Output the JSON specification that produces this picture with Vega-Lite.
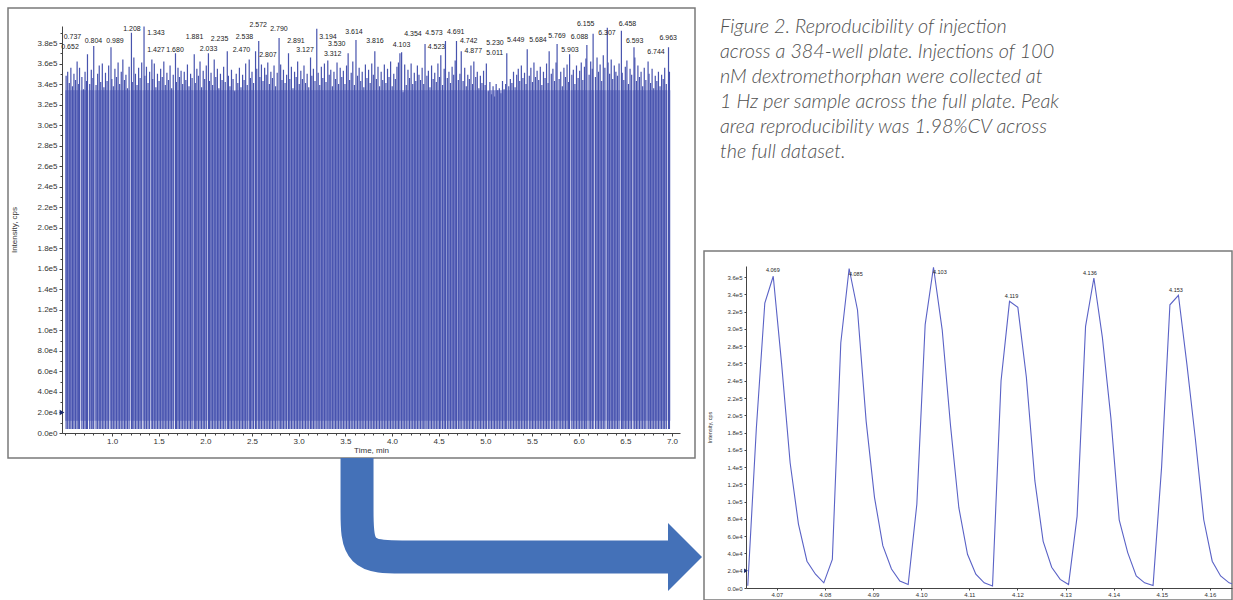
{
"$schema": "https://vega.github.io/schema/vega-lite/v6.json",
"padding": {"left": 7, "top": 7, "right": 0, "bottom": 0},
"spacing": 0,
"datasets": {
"trace": [
{"t":0.508,"y":348},{"t":0.525,"y":352},{"t":0.542,"y":341},{"t":0.559,"y":356},{"t":0.576,"y":338},{"t":0.592,"y":350},{"t":0.609,"y":344},{"t":0.626,"y":362},{"t":0.643,"y":340},{"t":0.652,"y":356,"lab":"0.652","lt":0.550,"ly":376.6},{"t":0.677,"y":347},{"t":0.694,"y":335},{"t":0.711,"y":352},{"t":0.727,"y":343},{"t":0.737,"y":369,"lab":"0.737","lt":0.576,"ly":386.3},{"t":0.761,"y":340},{"t":0.778,"y":354},{"t":0.795,"y":346},{"t":0.804,"y":377,"lab":"0.804","lt":0.801,"ly":381.5},{"t":0.829,"y":339},{"t":0.846,"y":350},{"t":0.863,"y":358},{"t":0.879,"y":342},{"t":0.896,"y":360},{"t":0.913,"y":337},
{"t":0.930,"y":351},{"t":0.947,"y":343},{"t":0.964,"y":358},{"t":0.989,"y":376,"lab":"0.989","lt":1.032,"ly":381.5},{"t":0.998,"y":345},{"t":1.014,"y":338},{"t":1.031,"y":355},{"t":1.048,"y":347},{"t":1.065,"y":361},{"t":1.082,"y":340},{"t":1.099,"y":352},{"t":1.116,"y":364},{"t":1.133,"y":344},{"t":1.149,"y":349},{"t":1.166,"y":336},{"t":1.183,"y":357},{"t":1.208,"y":390,"lab":"1.208","lt":1.214,"ly":394.1},{"t":1.217,"y":342},{"t":1.234,"y":366},{"t":1.251,"y":350},{"t":1.268,"y":339},{"t":1.285,"y":356},{"t":1.301,"y":346},{"t":1.318,"y":361},{"t":1.343,"y":396,"lab":"1.343","lt":1.471,"ly":389.3},
{"t":1.352,"y":348},{"t":1.369,"y":357},{"t":1.386,"y":341},{"t":1.403,"y":352},{"t":1.427,"y":364,"lab":"1.427","lt":1.471,"ly":373.0},{"t":1.436,"y":345},{"t":1.453,"y":360},{"t":1.470,"y":337},{"t":1.487,"y":350},{"t":1.504,"y":343},{"t":1.521,"y":355},{"t":1.538,"y":347},{"t":1.555,"y":362},{"t":1.571,"y":339},{"t":1.588,"y":351},{"t":1.605,"y":344},{"t":1.622,"y":358},{"t":1.639,"y":336},{"t":1.656,"y":349},{"t":1.680,"y":370,"lab":"1.680","lt":1.675,"ly":373.7},{"t":1.690,"y":342},{"t":1.707,"y":356},{"t":1.723,"y":347},{"t":1.740,"y":353},{"t":1.757,"y":340},
{"t":1.774,"y":352},{"t":1.791,"y":344},{"t":1.808,"y":359},{"t":1.825,"y":338},{"t":1.842,"y":350},{"t":1.858,"y":346},{"t":1.881,"y":369,"lab":"1.881","lt":1.884,"ly":386.3},{"t":1.892,"y":341},{"t":1.909,"y":355},{"t":1.926,"y":348},{"t":1.943,"y":362},{"t":1.960,"y":337},{"t":1.977,"y":353},{"t":1.993,"y":345},{"t":2.010,"y":358},{"t":2.033,"y":370,"lab":"2.033","lt":2.034,"ly":374.6},{"t":2.044,"y":343},{"t":2.061,"y":351},{"t":2.078,"y":339},{"t":2.095,"y":364},{"t":2.112,"y":347},{"t":2.129,"y":355},{"t":2.145,"y":336},{"t":2.162,"y":350},{"t":2.179,"y":344},
{"t":2.196,"y":357},{"t":2.213,"y":342},{"t":2.235,"y":372,"lab":"2.235","lt":2.152,"ly":384.4},{"t":2.247,"y":348},{"t":2.264,"y":338},{"t":2.280,"y":354},{"t":2.297,"y":345},{"t":2.314,"y":333},{"t":2.331,"y":350},{"t":2.348,"y":341},{"t":2.365,"y":356},{"t":2.382,"y":337},{"t":2.399,"y":349},{"t":2.415,"y":344},{"t":2.432,"y":360},{"t":2.449,"y":339},{"t":2.470,"y":364,"lab":"2.470","lt":2.387,"ly":373.7},{"t":2.483,"y":346},{"t":2.500,"y":352},{"t":2.517,"y":341},{"t":2.538,"y":372,"lab":"2.538","lt":2.419,"ly":385.4},{"t":2.551,"y":355},{"t":2.572,"y":382,"lab":"2.572","lt":2.567,"ly":397.1},{"t":2.584,"y":347},{"t":2.601,"y":359},
{"t":2.618,"y":343},{"t":2.635,"y":356},{"t":2.652,"y":349},{"t":2.669,"y":361},{"t":2.686,"y":340},{"t":2.702,"y":352},{"t":2.719,"y":346},{"t":2.736,"y":358},{"t":2.753,"y":338},{"t":2.770,"y":351},{"t":2.790,"y":385,"lab":"2.790","lt":2.789,"ly":393.2},{"t":2.807,"y":359,"lab":"2.807","lt":2.671,"ly":368.8},{"t":2.821,"y":344},{"t":2.837,"y":354},{"t":2.854,"y":341},{"t":2.871,"y":349},{"t":2.891,"y":370,"lab":"2.891","lt":2.971,"ly":382.4},{"t":2.905,"y":345},{"t":2.922,"y":357},{"t":2.939,"y":336},{"t":2.956,"y":352},{"t":2.973,"y":347},{"t":2.989,"y":362},{"t":3.006,"y":340},{"t":3.023,"y":353},
{"t":3.040,"y":345},{"t":3.057,"y":358},{"t":3.074,"y":341},{"t":3.091,"y":350},{"t":3.108,"y":337},{"t":3.127,"y":366,"lab":"3.127","lt":3.068,"ly":373.7},{"t":3.141,"y":348},{"t":3.158,"y":355},{"t":3.175,"y":343},{"t":3.194,"y":394,"lab":"3.194","lt":3.314,"ly":386.3},{"t":3.209,"y":351},{"t":3.226,"y":339},{"t":3.243,"y":357},{"t":3.259,"y":346},{"t":3.276,"y":360},{"t":3.293,"y":342},{"t":3.312,"y":363,"lab":"3.312","lt":3.364,"ly":369.0},{"t":3.327,"y":349},{"t":3.344,"y":354},{"t":3.361,"y":338},{"t":3.378,"y":352},{"t":3.395,"y":345},{"t":3.411,"y":361},{"t":3.428,"y":340},{"t":3.445,"y":356},
{"t":3.462,"y":347},{"t":3.479,"y":353},{"t":3.496,"y":340},{"t":3.513,"y":358},{"t":3.530,"y":370,"lab":"3.530","lt":3.408,"ly":379.0},{"t":3.546,"y":344},{"t":3.563,"y":351},{"t":3.580,"y":362},{"t":3.597,"y":339},{"t":3.614,"y":383,"lab":"3.614","lt":3.593,"ly":391.2},{"t":3.631,"y":348},{"t":3.648,"y":356},{"t":3.665,"y":343},{"t":3.681,"y":352},{"t":3.698,"y":337},{"t":3.715,"y":359},{"t":3.732,"y":346},{"t":3.749,"y":354},{"t":3.766,"y":341},{"t":3.783,"y":360},{"t":3.800,"y":349},{"t":3.816,"y":372,"lab":"3.816","lt":3.818,"ly":382.4},{"t":3.833,"y":345},{"t":3.850,"y":357},{"t":3.867,"y":338},
{"t":3.884,"y":352},{"t":3.901,"y":344},{"t":3.918,"y":359},{"t":3.935,"y":341},{"t":3.952,"y":355},{"t":3.968,"y":347},{"t":3.985,"y":362},{"t":4.002,"y":338},{"t":4.019,"y":350},{"t":4.036,"y":345},{"t":4.053,"y":357},{"t":4.069,"y":361},{"t":4.085,"y":370},{"t":4.103,"y":371,"lab":"4.103","lt":4.102,"ly":377.6},{"t":4.119,"y":332},{"t":4.136,"y":359},{"t":4.153,"y":339},{"t":4.171,"y":354},{"t":4.188,"y":346},{"t":4.205,"y":360},{"t":4.222,"y":340},{"t":4.239,"y":351},{"t":4.255,"y":343},{"t":4.272,"y":358},{"t":4.289,"y":349},
{"t":4.306,"y":344},{"t":4.323,"y":356},{"t":4.340,"y":340},{"t":4.354,"y":379,"lab":"4.354","lt":4.225,"ly":388.6},{"t":4.374,"y":348},{"t":4.390,"y":353},{"t":4.407,"y":337},{"t":4.424,"y":358},{"t":4.441,"y":345},{"t":4.458,"y":351},{"t":4.475,"y":342},{"t":4.492,"y":360},{"t":4.509,"y":347},{"t":4.523,"y":368,"lab":"4.523","lt":4.477,"ly":376.3},{"t":4.542,"y":339},{"t":4.559,"y":355},{"t":4.573,"y":382,"lab":"4.573","lt":4.450,"ly":390.2},{"t":4.593,"y":346},{"t":4.610,"y":352},{"t":4.627,"y":341},{"t":4.644,"y":357},{"t":4.661,"y":349},{"t":4.677,"y":363},{"t":4.691,"y":382,"lab":"4.691","lt":4.683,"ly":391.2},{"t":4.711,"y":344},
{"t":4.728,"y":350},{"t":4.742,"y":372,"lab":"4.742","lt":4.822,"ly":382.1},{"t":4.762,"y":343},{"t":4.779,"y":356},{"t":4.796,"y":338},{"t":4.812,"y":349},{"t":4.829,"y":345},{"t":4.846,"y":358},{"t":4.863,"y":340},{"t":4.877,"y":362,"lab":"4.877","lt":4.871,"ly":372.4},{"t":4.897,"y":347},{"t":4.914,"y":352},{"t":4.931,"y":336},{"t":4.947,"y":348},{"t":4.964,"y":341},{"t":4.981,"y":353},{"t":4.998,"y":339},{"t":5.011,"y":360,"lab":"5.011","lt":5.100,"ly":370.7},{"t":5.032,"y":333},{"t":5.049,"y":342},{"t":5.066,"y":330},{"t":5.083,"y":338},{"t":5.099,"y":328},{"t":5.116,"y":340},{"t":5.133,"y":334},
{"t":5.150,"y":336},{"t":5.167,"y":331},{"t":5.184,"y":343},{"t":5.201,"y":335},{"t":5.218,"y":340},{"t":5.230,"y":370,"lab":"5.230","lt":5.103,"ly":380.5},{"t":5.251,"y":338},{"t":5.268,"y":345},{"t":5.285,"y":341},{"t":5.302,"y":352},{"t":5.319,"y":337},{"t":5.336,"y":349},{"t":5.353,"y":355},{"t":5.369,"y":343},{"t":5.386,"y":358},{"t":5.403,"y":346},{"t":5.420,"y":351},{"t":5.437,"y":340},{"t":5.449,"y":374,"lab":"5.449","lt":5.326,"ly":383.1},{"t":5.471,"y":348},{"t":5.488,"y":356},{"t":5.505,"y":342},{"t":5.521,"y":361},{"t":5.538,"y":347},{"t":5.555,"y":353},
{"t":5.572,"y":344},{"t":5.589,"y":357},{"t":5.606,"y":339},{"t":5.623,"y":352},{"t":5.640,"y":346},{"t":5.656,"y":360},{"t":5.673,"y":341},{"t":5.684,"y":372,"lab":"5.684","lt":5.564,"ly":383.1},{"t":5.707,"y":350},{"t":5.724,"y":355},{"t":5.741,"y":343},{"t":5.758,"y":361},{"t":5.769,"y":379,"lab":"5.769","lt":5.768,"ly":387.0},{"t":5.791,"y":345},{"t":5.808,"y":352},{"t":5.825,"y":338},{"t":5.842,"y":356},{"t":5.859,"y":347},{"t":5.876,"y":359},{"t":5.893,"y":342},{"t":5.903,"y":369,"lab":"5.903","lt":5.907,"ly":373.0},{"t":5.927,"y":349},{"t":5.943,"y":354},{"t":5.960,"y":340},{"t":5.977,"y":358},
{"t":5.994,"y":346},{"t":6.011,"y":353},{"t":6.028,"y":361},{"t":6.045,"y":344},{"t":6.062,"y":357},{"t":6.078,"y":365},{"t":6.088,"y":378,"lab":"6.088","lt":6.009,"ly":386.3},{"t":6.112,"y":349},{"t":6.129,"y":362},{"t":6.146,"y":355},{"t":6.155,"y":389,"lab":"6.155","lt":6.076,"ly":398.3},{"t":6.180,"y":347},{"t":6.197,"y":366},{"t":6.213,"y":352},{"t":6.230,"y":359},{"t":6.247,"y":343},{"t":6.264,"y":368},{"t":6.281,"y":356},{"t":6.307,"y":395,"lab":"6.307","lt":6.303,"ly":390.2},{"t":6.315,"y":361},{"t":6.332,"y":350},{"t":6.349,"y":364},{"t":6.365,"y":345},{"t":6.382,"y":358},{"t":6.399,"y":352},
{"t":6.416,"y":348},{"t":6.433,"y":360},{"t":6.458,"y":392,"lab":"6.458","lt":6.523,"ly":398.3},{"t":6.467,"y":351},{"t":6.484,"y":344},{"t":6.500,"y":357},{"t":6.517,"y":363},{"t":6.534,"y":340},{"t":6.551,"y":355},{"t":6.568,"y":349},{"t":6.593,"y":376,"lab":"6.593","lt":6.600,"ly":382.1},{"t":6.602,"y":366},{"t":6.619,"y":343},{"t":6.635,"y":358},{"t":6.652,"y":347},{"t":6.669,"y":352},{"t":6.686,"y":338},{"t":6.703,"y":356},{"t":6.720,"y":344},{"t":6.744,"y":362,"lab":"6.744","lt":6.829,"ly":371.4},{"t":6.754,"y":350},{"t":6.771,"y":341},{"t":6.787,"y":355},{"t":6.804,"y":336},{"t":6.821,"y":348},
{"t":6.838,"y":343},{"t":6.855,"y":352},{"t":6.872,"y":338},{"t":6.889,"y":349},{"t":6.906,"y":345},{"t":6.922,"y":356},{"t":6.939,"y":340},{"t":6.963,"y":376,"lab":"6.963","lt":6.960,"ly":384.7},{"t":6.973,"y":352}
],
"zoom": [
{"t":4.06397,"y":2.5},{"t":4.06575,"y":185},{"t":4.06751,"y":330},{"t":4.06926,"y":361,"lab":"4.069","lt":4.06917,"ly":368.8},{"t":4.07101,"y":259},{"t":4.07277,"y":145},{"t":4.0745,"y":74},{"t":4.07627,"y":31},{"t":4.07804,"y":16},{"t":4.07977,"y":6},{"t":4.08154,"y":33},{"t":4.0833,"y":284},{"t":4.08503,"y":370,"lab":"4.085","lt":4.08642,"ly":364.0},{"t":4.08677,"y":322},{"t":4.08857,"y":193},{"t":4.0903,"y":105},{"t":4.09203,"y":49},{"t":4.09383,"y":22},{"t":4.09557,"y":8},{"t":4.0973,"y":4},{"t":4.0991,"y":97},{"t":4.10083,"y":305},{"t":4.10256,"y":371.5,"lab":"4.103","lt":4.10388,"ly":365.9},{"t":4.10437,"y":299},{"t":4.1061,"y":188},{"t":4.10783,"y":93},{"t":4.10963,"y":39},{"t":4.11136,"y":16},{"t":4.1131,"y":6},{"t":4.11483,"y":2.3},{"t":4.1166,"y":240},{"t":4.11836,"y":332,"lab":"4.119","lt":4.11878,"ly":338.1},{"t":4.12009,"y":325},{"t":4.12186,"y":244},{"t":4.12363,"y":124},{"t":4.12535,"y":54},{"t":4.12712,"y":24},{"t":4.12889,"y":10},{"t":4.13063,"y":4},{"t":4.1324,"y":83},{"t":4.13416,"y":303},{"t":4.13589,"y":359,"lab":"4.136","lt":4.13506,"ly":364.8},{"t":4.13766,"y":290},{"t":4.13942,"y":197},{"t":4.14115,"y":79},{"t":4.14292,"y":41},{"t":4.14469,"y":14},{"t":4.14643,"y":6},{"t":4.14819,"y":3},{"t":4.14996,"y":140},{"t":4.15169,"y":328},{"t":4.15346,"y":339,"lab":"4.153","lt":4.15294,"ly":345.1},{"t":4.15522,"y":259},{"t":4.15695,"y":174},{"t":4.15872,"y":79},{"t":4.16048,"y":31},{"t":4.16222,"y":14},{"t":4.16399,"y":6},{"t":4.16575,"y":3}
],
"caption": [
{"line":1,"txt":"Figure 2. Reproducibility of injection"},
{"line":2,"txt":"across a 384-well plate. Injections of 100"},
{"line":3,"txt":"nM dextromethorphan were collected at"},
{"line":4,"txt":"1 Hz per sample across the full plate. Peak"},
{"line":5,"txt":"area reproducibility was 1.98%CV across"},
{"line":6,"txt":"the full dataset."}
],
"arrow": [
{"k":0,"ax":50.22,"ay":0},{"k":1,"ax":50.22,"ay":38.03},{"k":2,"ax":50.22,"ay":69.72},{"k":3,"ax":56.69,"ay":69.72},{"k":4,"ax":63.17,"ay":69.72},{"k":5,"ax":95.0,"ay":69.72}
]
},
"hconcat": [
{
"bounds": "flush",
"spacing": 0,
"vconcat": [
{
"width": 687, "height": 450,
"view": {"stroke": "#7a7a7a", "strokeWidth": 1.5},
"resolve": {"axis": {"x": "independent", "y": "independent"}},
"layer": [
{
"data": {"name": "trace"},
"mark": {"type": "rule", "color": "#9096d4", "strokeWidth": 1.7},
"encoding": {
"x": {"field": "t", "type": "quantitative", "axis": null},
"y": {"datum": 334, "type": "quantitative", "axis": null},
"y2": {"datum": 12}
}
},
{
"data": {"name": "trace"},
"mark": {"type": "rule", "color": "#4753ae", "strokeWidth": 1.2},
"encoding": {
"x": {"field": "t", "type": "quantitative",
"scale": {"domain": [0.464, 7.086], "range": [54, 672], "nice": false, "zero": false},
"axis": {"orient": "bottom", "offset": -25, "values": [1,1.5,2,2.5,3,3.5,4,4.5,5,5.5,6,6.5,7], "format": ".1f", "labelFontSize": 8, "tickSize": 3, "labelPadding": 1, "title": "Time, min", "titleFontSize": 8, "titlePadding": 1, "labelFlush": false}},
"y": {"field": "y", "type": "quantitative",
"scale": {"domain": [0, 396.6], "range": [425, 18], "nice": false},
"axis": {"orient": "left", "offset": -54, "values": [0,20,40,60,80,100,120,140,160,180,200,220,240,260,280,300,320,340,360,380], "labelExpr": "replace(format(datum.value*1000, '.1e'), '+', '')", "labelFontSize": 8, "tickSize": 3, "labelPadding": 2, "labelOverlap": false, "title": "Intensity, cps", "titleFontSize": 8, "titlePadding": 18}},
"y2": {"datum": 4}
}
},
{
"data": {"name": "trace"},
"transform": [{"filter": "isValid(datum.lab)"}],
"mark": {"type": "text", "fontSize": 7, "color": "#222222", "baseline": "middle"},
"encoding": {
"x": {"field": "lt", "type": "quantitative",
"axis": {"orient": "bottom", "offset": -25, "values": [0.5,0.6,0.7,0.8,0.9,1,1.1,1.2,1.3,1.4,1.5,1.6,1.7,1.8,1.9,2,2.1,2.2,2.3,2.4,2.5,2.6,2.7,2.8,2.9,3,3.1,3.2,3.3,3.4,3.5,3.6,3.7,3.8,3.9,4,4.1,4.2,4.3,4.4,4.5,4.6,4.7,4.8,4.9,5,5.1,5.2,5.3,5.4,5.5,5.6,5.7,5.8,5.9,6,6.1,6.2,6.3,6.4,6.5,6.6,6.7,6.8,6.9,7], "labels": false, "domain": false, "tickSize": 2, "title": null}},
"y": {"field": "ly", "type": "quantitative",
"axis": {"orient": "left", "offset": -54, "values": [10,30,50,70,90,110,130,150,170,190,210,230,250,270,290,310,330,350,370,390], "labels": false, "domain": false, "tickSize": 2, "title": null}},
"text": {"field": "lab"}
}
},
{
"data": {"values": [{"thr": 20}]},
"mark": {"type": "point", "shape": "triangle-right", "filled": true, "size": 30, "color": "#1b2a6b", "opacity": 1},
"encoding": {
"x": {"datum": 0.464, "type": "quantitative", "axis": null},
"y": {"field": "thr", "type": "quantitative", "axis": null}
}
}
]
},
{
"width": 695, "height": 142,
"data": {"name": "arrow"},
"layer": [
{
"mark": {"type": "line", "interpolate": "basis", "strokeWidth": 33, "color": "#4471b8", "strokeCap": "butt", "strokeJoin": "round"},
"encoding": {
"x": {"field": "ax", "type": "quantitative", "scale": {"domain": [0, 100], "nice": false}, "axis": null},
"y": {"field": "ay", "type": "quantitative", "scale": {"domain": [0, 100], "reverse": true, "nice": false}, "axis": null},
"order": {"field": "k", "type": "quantitative"}
}
},
{
"data": {"values": [{"hx": 97.41, "hy": 69.72}]},
"mark": {"type": "point", "shape": "M -0.5 -1 L 0.5 0 L -0.5 1 Z", "size": 4624, "filled": true, "color": "#4471b8", "opacity": 1, "strokeWidth": 0},
"encoding": {
"x": {"field": "hx", "type": "quantitative"},
"y": {"field": "hy", "type": "quantitative"}
}
}
]
}
]
},
{
"bounds": "flush",
"spacing": 0,
"vconcat": [
{
"width": 528, "height": 243,
"data": {"name": "caption"},
"mark": {"type": "text", "align": "left", "baseline": "alphabetic", "font": "Lato", "fontStyle": "italic", "fontWeight": 300, "fontSize": 19.8, "letterSpacing": 0.3, "color": "#4f4f4f", "dx": 16},
"encoding": {
"x": {"datum": 0, "type": "quantitative", "scale": {"domain": [0, 1]}, "axis": null},
"y": {"field": "line", "type": "quantitative", "scale": {"domain": [0, 9.72], "reverse": true, "nice": false, "zero": true}, "axis": null},
"text": {"field": "txt"}
}
},
{
"width": 528, "height": 349,
"view": {"stroke": "#7a7a7a", "strokeWidth": 1.5},
"resolve": {"axis": {"x": "independent", "y": "independent"}},
"layer": [
{
"data": {"name": "zoom"},
"mark": {"type": "line", "color": "#5a62c6", "strokeWidth": 1.1, "clip": true},
"encoding": {
"x": {"field": "t", "type": "quantitative",
"scale": {"domain": [4.0636, 4.16459], "range": [42, 528], "nice": false, "zero": false},
"axis": {"orient": "bottom", "offset": -12, "values": [4.07,4.08,4.09,4.1,4.11,4.12,4.13,4.14,4.15,4.16], "format": ".2f", "labelFontSize": 6, "tickSize": 2, "labelPadding": 1, "title": null, "labelFlush": false}},
"y": {"field": "y", "type": "quantitative",
"scale": {"domain": [0, 372.9], "range": [337, 15], "nice": false},
"axis": {"orient": "left", "offset": -42, "values": [0,20,40,60,80,100,120,140,160,180,200,220,240,260,280,300,320,340,360], "labelExpr": "replace(format(datum.value*1000, '.1e'), '+', '')", "labelFontSize": 6, "tickSize": 2, "labelPadding": 2, "labelOverlap": false, "title": "Intensity, cps", "titleFontSize": 5.5, "titlePadding": 14}}
}
},
{
"data": {"name": "zoom"},
"transform": [{"filter": "isValid(datum.lab)"}],
"mark": {"type": "text", "fontSize": 5.5, "color": "#222222", "baseline": "middle"},
"encoding": {
"x": {"field": "lt", "type": "quantitative", "axis": null},
"y": {"field": "ly", "type": "quantitative", "axis": null},
"text": {"field": "lab"}
}
},
{
"data": {"values": [{"thr": 20}]},
"mark": {"type": "point", "shape": "triangle-right", "filled": true, "size": 20, "color": "#1b2a6b", "opacity": 1},
"encoding": {
"x": {"datum": 4.0636, "type": "quantitative", "axis": null},
"y": {"field": "thr", "type": "quantitative", "axis": null}
}
}
]
}
]
}
],
"config": {
"view": {"stroke": null},
"axis": {"grid": false, "labelFont": "Liberation Sans", "titleFont": "Liberation Sans", "labelColor": "#333333", "titleColor": "#333333", "domainColor": "#444444", "tickColor": "#444444", "titleFontWeight": "normal"},
"text": {"font": "Liberation Sans"}
}
}
